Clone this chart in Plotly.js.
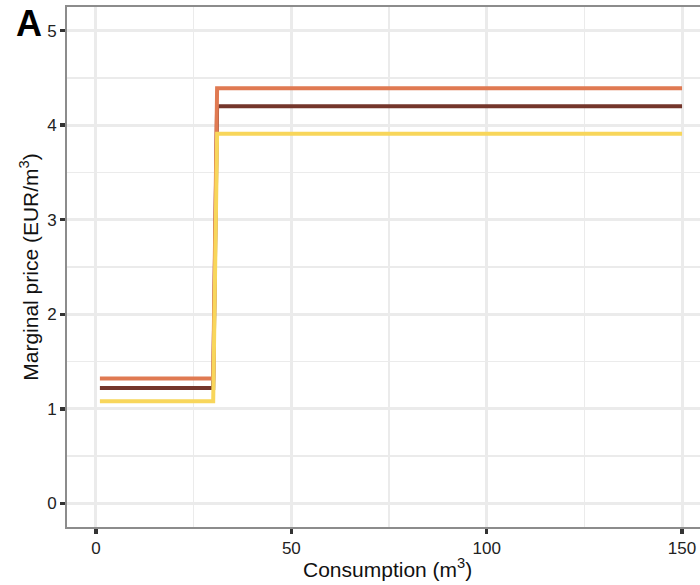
<!DOCTYPE html>
<html>
<head>
<meta charset="utf-8">
<script src="https://cdn.plot.ly/plotly-3.0.1.min.js"></script>
<style>html,body{margin:0;padding:0;background:#fff;}#chart{width:700px;height:585px;}</style>
</head>
<body>
<div id="chart"></div>
<script>
// Consumption breakpoints (m3): first block 1-30, second block 31-150
const consumption = [1, 30, 31, 150];
const seriesNames = ["Tariff B", "Tariff A", "Tariff C"];
const priceBrown  = [1.22, 1.22, 4.20, 4.20];
const priceOrange = [1.32, 1.32, 4.39, 4.39];
const priceYellow = [1.08, 1.08, 3.91, 3.91];
const colors = ["#74362B", "#E07A52", "#F8D65B"];
const xTicks = [0, 50, 100, 150];
const yTicks = [0, 1, 2, 3, 4, 5];

const allSeries = [priceBrown, priceOrange, priceYellow];
const traces = allSeries.map((ys, i) => ({
  x: consumption, y: ys, type: "scatter", mode: "lines", name: seriesNames[i],
  line: {color: colors[i], width: 4}, showlegend: false, hoverinfo: "skip"
}));

const font = "'Liberation Sans', Arial, sans-serif";
const layout = {
  width: 700, height: 585,
  margin: {l: 67, r: 0, t: 7, b: 58},
  paper_bgcolor: "#fff", plot_bgcolor: "#fff",
  showlegend: false,
  font: {family: font, color: "#222"},
  xaxis: {
    range: [-7.42, 154.6], tickvals: xTicks, ticktext: xTicks.map(String),
    showgrid: true, gridcolor: "#ebebeb", gridwidth: 3,
    minor: {dtick: 25, tick0: 0, showgrid: true, gridcolor: "#ebebeb", gridwidth: 1.6, ticks: ""},
    zeroline: false, showline: true, linecolor: "#8c8c8c", linewidth: 2, mirror: true,
    ticks: "outside", ticklen: 5, tickwidth: 3.5, tickcolor: "#333",
    ticklabelstandoff: 0,
    tickfont: {size: 17, color: "#222", family: font},
    title: {text: ""}
  },
  yaxis: {
    range: [-0.25, 5.25], tickvals: yTicks, ticktext: yTicks.map(String),
    showgrid: true, gridcolor: "#ebebeb", gridwidth: 3,
    minor: {dtick: 0.5, tick0: 0, showgrid: true, gridcolor: "#ebebeb", gridwidth: 1.6, ticks: ""},
    zeroline: false, showline: true, linecolor: "#8c8c8c", linewidth: 2, mirror: false,
    ticks: "outside", ticklen: 5, tickwidth: 3.5, tickcolor: "#333",
    ticklabelstandoff: 0,
    tickfont: {size: 17, color: "#222", family: font},
    title: {text: "Marginal price (EUR/m<sup>3</sup>)", font: {size: 21, color: "#111", family: font}, standoff: 3}
  },
  annotations: [{
    text: "<b>A</b>", xref: "paper", yref: "paper", x: -0.06, y: 0.969,
    xanchor: "center", yanchor: "middle", showarrow: false,
    font: {size: 36, color: "#000", family: font}
  }, {
    text: "Consumption (m<sup>3</sup>)", xref: "paper", yref: "paper", x: 0.507, y: -0.078,
    xanchor: "center", yanchor: "middle", showarrow: false,
    font: {size: 21, color: "#111", family: font}
  }]
};

Plotly.newPlot("chart", traces, layout, {displayModeBar: false, staticPlot: true});
</script>
</body>
</html>
